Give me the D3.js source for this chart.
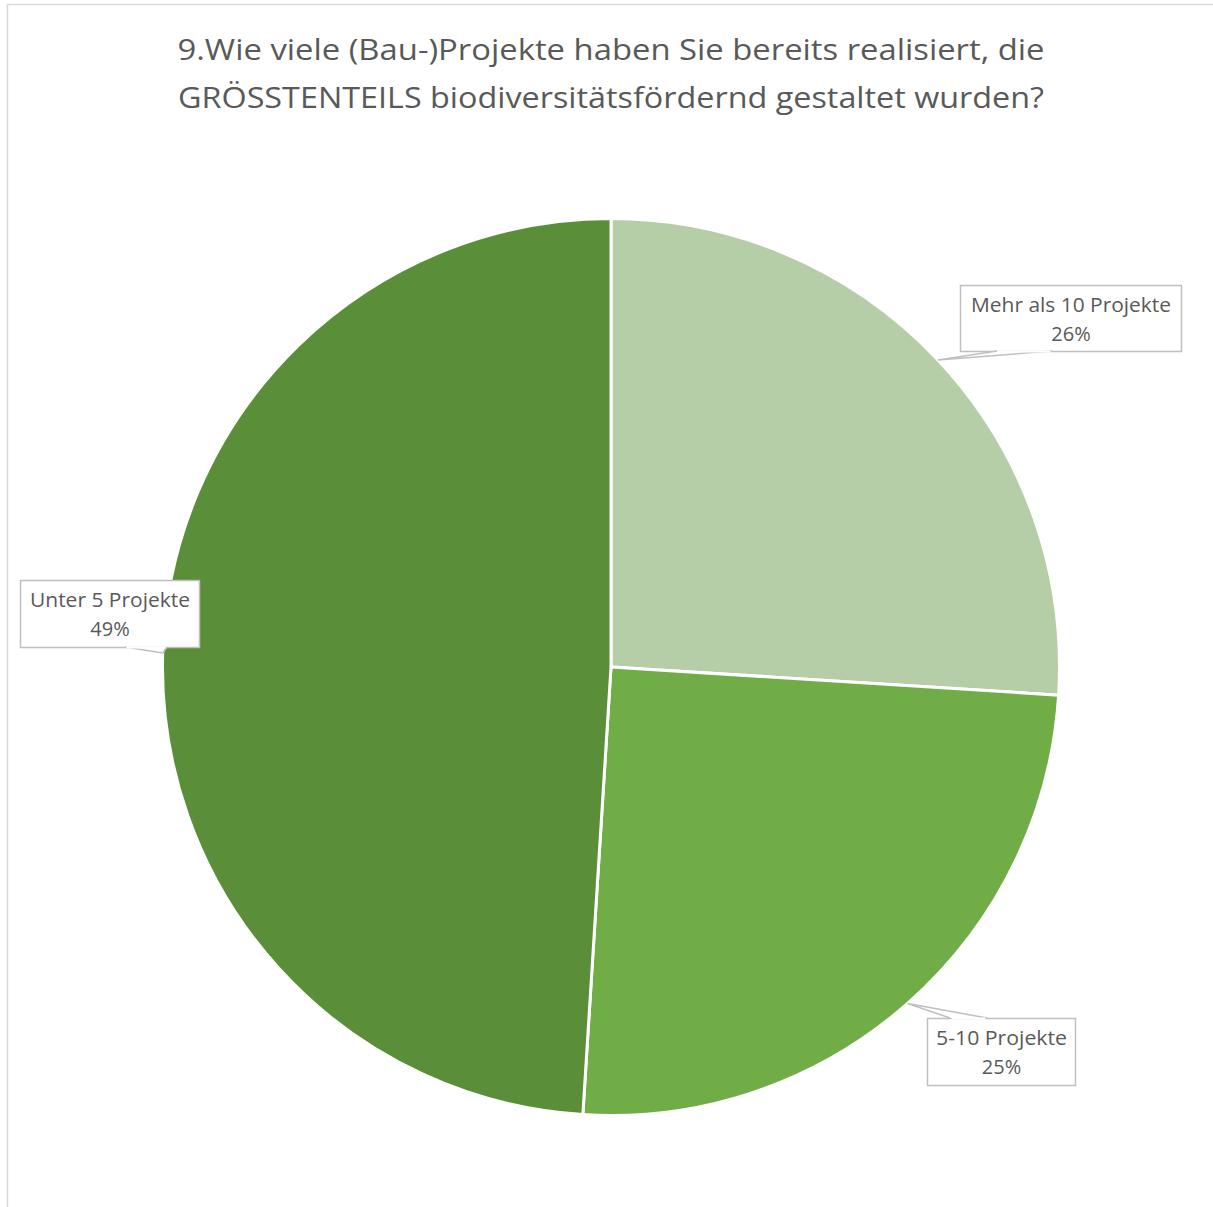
<!DOCTYPE html>
<html>
<head>
<meta charset="utf-8">
<script src="https://cdn.jsdelivr.net/npm/d3@7"></script>
<style>
  html, body { margin: 0; padding: 0; background: #fff; }
  svg { display: block; }
</style>
</head>
<body>
<svg id="chart" width="1213" height="1207"></svg>
<script>
// Survey answers and their shares (percent)
const categories = ["Mehr als 10 Projekte", "5-10 Projekte", "Unter 5 Projekte"];
const shares = [26, 25, 49];
const sliceColors = ["#B5CEA8", "#70AD47", "#5B8E38"];
const titleLines = [
  "9.Wie viele (Bau-)Projekte haben Sie bereits realisiert, die",
  "GRÖSSTENTEILS biodiversitätsfördernd gestaltet wurden?"
];

const svg = d3.select("#chart");
const W = 1213, H = 1207;

// chart frame
svg.append("rect")
  .attr("x", 7.5).attr("y", 4.5)
  .attr("width", W + 20).attr("height", H + 20)
  .attr("fill", "#fff").attr("stroke", "#D9D9D9").attr("stroke-width", 1.5);

// title
const title = svg.append("g");
const titleWidths = [867, 866];
titleLines.forEach((t, i) => {
  title.append("text")
    .attr("x", 611).attr("y", 60 + i * 48)
    .attr("text-anchor", "middle")
    .attr("font-family", "'Open Sans', 'Liberation Sans', sans-serif")
    .attr("font-size", 30)
    .attr("fill", "#595959")
    .attr("textLength", titleWidths[i])
    .attr("lengthAdjust", "spacingAndGlyphs")
    .text(t);
});

// pie
const cx = 611, cy = 667, R = 448.5;
const data = categories.map((c, i) => ({ label: c, value: shares[i], color: sliceColors[i] }));
const pie = d3.pie().sort(null).value(d => d.value);
const arcs = pie(data);
const arc = d3.arc().innerRadius(0).outerRadius(R);

const g = svg.append("g").attr("transform", `translate(${cx},${cy})`);
g.selectAll("path.slice")
  .data(arcs)
  .join("path")
  .attr("class", "slice")
  .attr("d", arc)
  .attr("fill", d => d.data.color)
  .attr("stroke", "#fff")
  .attr("stroke-width", 3)
  .attr("stroke-linejoin", "round");

// data label callouts: box position (page coords) and where the tail leaves the box
const callouts = [
  { x: 960, y: 285, w: 221, h: 66, tail: [[997, 351], [1052, 351]] },
  { x: 927, y: 1018, w: 148, h: 67, tail: [[950, 1018], [987, 1018]] },
  { x: 20, y: 580, w: 179, h: 67, tail: [[125, 647], [167, 647]] }
];
const labelWidths = [200, 131, 160];

const labels = svg.append("g");
arcs.forEach((a, i) => {
  const c = callouts[i];
  const mid = (a.startAngle + a.endAngle) / 2;
  const tip = [cx + R * Math.sin(mid), cy - R * Math.cos(mid)];
  const lg = labels.append("g");
  lg.append("rect")
    .attr("x", c.x + 0.5).attr("y", c.y + 0.5)
    .attr("width", c.w).attr("height", c.h)
    .attr("fill", "#fff").attr("stroke", "#BFBFBF").attr("stroke-width", 1.5);
  // tail
  lg.append("path")
    .attr("d", d3.line()([c.tail[0], tip, c.tail[1]]))
    .attr("fill", "#fff").attr("stroke", "#BFBFBF").attr("stroke-width", 1.5)
    .attr("stroke-linejoin", "miter");
  // cover the box edge where the tail joins it
  lg.append("line")
    .attr("x1", c.tail[0][0] + 1.5).attr("x2", c.tail[1][0] - 1.5)
    .attr("y1", c.tail[0][1] + 0.5).attr("y2", c.tail[1][1] + 0.5)
    .attr("stroke", "#fff").attr("stroke-width", 2);
  const tx = c.x + c.w / 2 + 0.5;
  const t = lg.append("g")
    .attr("text-anchor", "middle")
    .attr("font-family", "'Open Sans', 'Liberation Sans', sans-serif")
    .attr("font-size", 20)
    .attr("fill", "#595959");
  t.append("text").attr("x", tx).attr("y", c.y + 27)
    .attr("textLength", labelWidths[i]).attr("lengthAdjust", "spacingAndGlyphs")
    .text(a.data.label);
  t.append("text").attr("x", tx).attr("y", c.y + 56).text(a.data.value + "%");
});
</script>
</body>
</html>
